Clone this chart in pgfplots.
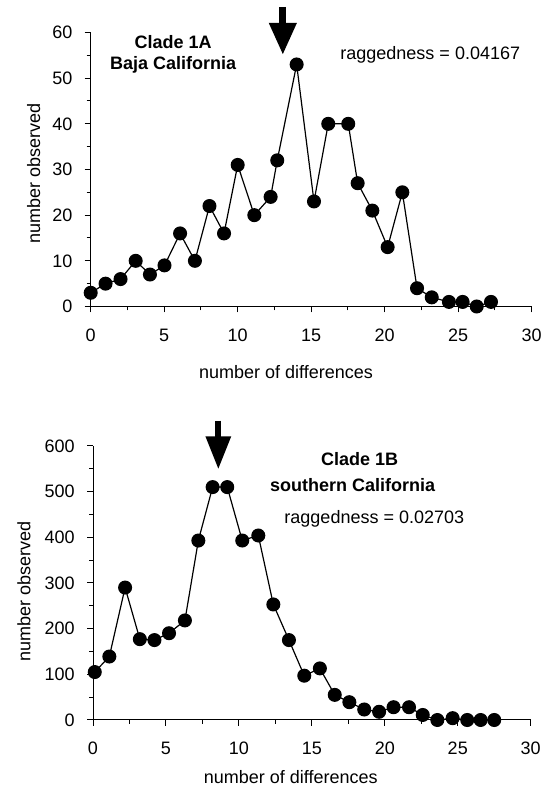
\documentclass[border=0pt]{standalone}
\usepackage{fontspec}
\setmainfont{Liberation Sans}
\usepackage{pgfplots}
\pgfplotsset{compat=1.18}
\usetikzlibrary{arrows.meta}

% shared look of the two mismatch-distribution panels
\pgfplotsset{
  mdist/.style={
    scale only axis, clip=false, enlargelimits=false,
    axis lines*=left, axis line style={-,line width=0.5pt},
    tick align=outside, major tick length=3pt, minor tick length=2pt,
    every tick/.style={black,line width=0.5pt},
    xmin=0, xmax=30, xtick={0,5,...,30}, minor x tick num=1,
    minor y tick num=1,
    /pgf/number format/assume math mode=true,
    xticklabel style={yshift=-5pt},
    yticklabel style={xshift=-3pt},
    xlabel={number of differences}, ylabel={number observed},
  },
  pts/.style={black, line width=0.6pt, mark=*, mark size=3.2pt, mark options={solid,fill=black}},
}

\begin{document}
\fontsize{9}{11}\selectfont
\begin{tikzpicture}

% Clade 1A
\begin{axis}[mdist,
  at={(45.35pt,239.25pt)}, anchor=south west,
  width=220.5pt, height=137pt,
  ymin=0, ymax=60, ytick={0,10,...,60},
  xlabel style={at={(axis description cs:0.443,-0.238)}, anchor=center},
  ylabel style={at={(axis description cs:-0.129,0.485)}, anchor=center},
]
\addplot[pts] coordinates {
(0,3)(1.01,5)(2.03,6)(3.06,10)(4.03,7)(5.02,9)(6.08,16)(7.09,10)(8.08,22)(9.07,16)
(10.0,31)(11.13,20)(12.24,24)(12.69,32)(14.01,53)(15.19,23)(16.16,40)(17.52,40)
(18.16,27)(19.16,21)(20.2,13)(21.2,25)(22.2,4)(23.2,2)(24.37,1)(25.3,1)(26.26,0)(27.23,1)
};
\draw[line width=3.5pt,-{Triangle[width=13pt,length=16pt]}] (axis cs:13.07,65.6) -- (axis cs:13.07,55.1);
\node[font=\bfseries] at (axis cs:5.61,57.8) {Clade 1A};
\node[font=\bfseries] at (axis cs:5.61,52.9) {Baja California};
\node at (axis cs:23.1,55.1) {raggedness = 0.04167};
\end{axis}

% Clade 1B
\begin{axis}[mdist,
  at={(46.5pt,32.5pt)}, anchor=south west,
  width=218.85pt, height=137pt,
  ymin=0, ymax=600, ytick={0,100,...,600},
  xlabel style={at={(axis description cs:0.452,-0.21)}, anchor=center},
  ylabel style={at={(axis description cs:-0.158,0.469)}, anchor=center},
]
\addplot[pts] coordinates {
(0.12,105)(1.12,139)(2.2,290)(3.21,177)(4.21,175)(5.21,190)(6.3,218)(7.22,393)
(8.2,510)(9.2,510)(10.23,393)(11.33,404)(12.36,253)(13.43,175)(14.48,97)(15.55,113)
(16.57,55)(17.57,39)(18.59,23)(19.61,18)(20.6,28)(21.66,28)(22.6,11)(23.6,0)
(24.65,4)(25.65,0)(26.57,0)(27.5,0)
};
\draw[line width=3pt,-{Triangle[width=12pt,length=16.5pt]}] (axis cs:8.59,655.6) -- (axis cs:8.59,549);
\node[font=\bfseries] at (axis cs:18.27,570.4) {Clade 1B};
\node[font=\bfseries] at (axis cs:17.79,514.8) {southern California};
\node at (axis cs:19.28,440.7) {raggedness = 0.02703};
\end{axis}

\pgfresetboundingbox
\path[use as bounding box] (0,0) rectangle (271.5pt,392.5pt);
\end{tikzpicture}
\end{document}
